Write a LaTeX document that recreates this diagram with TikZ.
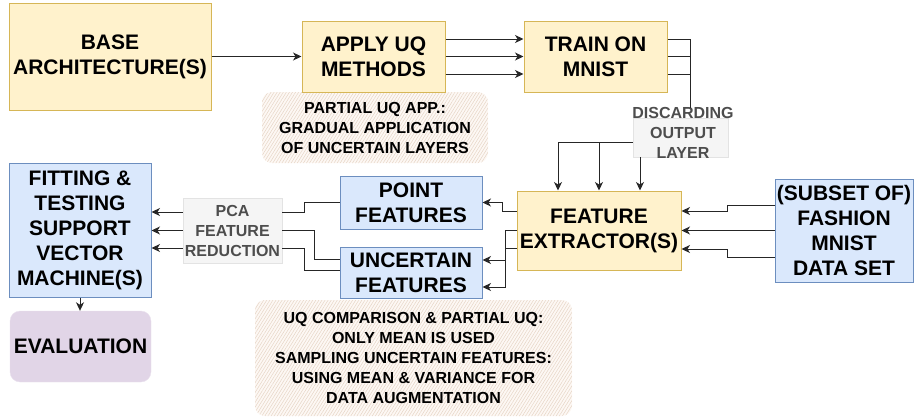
\documentclass[tikz,border=0pt]{standalone}
\usepackage{fontspec}
\setmainfont{Liberation Sans}
\usetikzlibrary{arrows.meta,patterns.meta}
\definecolor{yfill}{HTML}{FFF2CC}
\definecolor{ydraw}{HTML}{D6B656}
\definecolor{bfill}{HTML}{DAE8FC}
\definecolor{bdraw}{HTML}{6C8EBF}
\definecolor{pfill}{HTML}{E1D5E7}
\definecolor{gfill}{HTML}{F5F5F5}
\definecolor{gdraw}{HTML}{E3E3E3}
\definecolor{gtext}{HTML}{4D4D4D}
\definecolor{hatch}{HTML}{E6D5C6}
\definecolor{hfill}{HTML}{FDF8F4}
\definecolor{wire}{HTML}{262626}
\tikzset{
  big/.style={font=\fontsize{21}{25}\selectfont\bfseries, align=center, inner sep=0pt},
  small/.style={font=\fontsize{16}{20}\selectfont\bfseries, align=center, inner sep=0pt},
  ybox/.style={big, draw=ydraw, fill=yfill, line width=1pt},
  bbox/.style={big, draw=bdraw, fill=bfill, line width=1pt},
  evalbox/.style={big, fill=pfill, draw=pfill!70!white, rounded corners=10pt},
  glabel/.style={small, text=gtext},
  gbox/.style={draw=gdraw, fill=gfill, line width=0.8pt, inner sep=0pt},
  note/.style={small, rounded corners=10pt, preaction={fill=hfill},
    pattern={Lines[angle=58,distance=2.6pt,line width=0.5pt]}, pattern color=hatch},
  wireline/.style={draw=wire, line width=1pt},
  arr/.style={wireline, -{Stealth[length=8.5pt,width=8pt,inset=2.5pt]}},
}
\begin{document}
\begin{tikzpicture}[x=1pt,y=-1pt]
\useasboundingbox (0,0) rectangle (914,418);
% notes
\node[note, minimum width=226pt, minimum height=71pt] (note1) at (375,127.5)
  {PARTIAL UQ APP.:\\GRADUAL APPLICATION\\OF UNCERTAIN LAYERS};
\node[note, minimum width=317pt, minimum height=116pt] (note2) at (413.5,358)
  {UQ COMPARISON \& PARTIAL UQ:\\ONLY MEAN IS USED\\SAMPLING UNCERTAIN FEATURES:\\USING MEAN \& VARIANCE FOR\\DATA AUGMENTATION};
% main boxes
\node[ybox, minimum width=202pt, minimum height=107pt] (base) at (110,56.5) {BASE\\ARCHITECTURE(S)};
\node[ybox, minimum width=143pt, minimum height=71pt] (apply) at (373.5,56.5) {APPLY UQ\\METHODS};
\node[ybox, minimum width=143pt, minimum height=71pt] (train) at (595.5,56.5) {TRAIN ON\\MNIST};
\node[ybox, minimum width=164pt, minimum height=79pt] (fe) at (599,230.5) {FEATURE\\EXTRACTOR(S)};
\node[bbox, minimum width=138pt, minimum height=103pt] (data) at (844,230.5) {(SUBSET OF)\\FASHION\\MNIST\\DATA SET};
\node[bbox, minimum width=142pt, minimum height=53pt] (point) at (411,202.5) {POINT\\FEATURES};
\node[bbox, minimum width=142pt, minimum height=51pt] (unc) at (411,272.5) {UNCERTAIN\\FEATURES};
\node[bbox, minimum width=142pt, minimum height=134pt] (svm) at (80,230) {FITTING \&\\TESTING\\SUPPORT\\VECTOR\\MACHINE(S)};
\node[evalbox, minimum width=141pt, minimum height=71pt] (eval) at (80.5,346.5) {EVALUATION};
% grey labels
\node[gbox, minimum width=99pt, minimum height=65pt] (pca) at (232.5,230.5) {};
\node[glabel] (pcatext) at (232.5,230.5) {PCA\\FEATURE\\REDUCTION};
\node[gbox, minimum width=95pt, minimum height=39pt] (discbox) at (680.5,137.5) {};
\node[glabel] (disctext) at (683,133) {DISCARDING\\OUTPUT\\LAYER};
\coordinate (tj) at (690,108);
% connectors
\draw[arr] (base.east) -- (apply.west);
\draw[arr] ([yshift=17.5pt]apply.east) -- ([yshift=17.5pt]train.west);
\draw[arr] (apply.east) -- (train.west);
\draw[arr] ([yshift=-17.5pt]apply.east) -- ([yshift=-17.5pt]train.west);
\draw[wireline] ([yshift=17.5pt]train.east) -| (tj);
\draw[wireline] (train.east) -| (tj);
\draw[wireline] ([yshift=-17.5pt]train.east) -| (tj);
\draw[arr] ([yshift=-4.5pt]discbox.west) -| ([xshift=-41pt]fe.north);
\draw[arr] ([yshift=-4.5pt]discbox.west) -| (fe.north);
\draw[arr] ([xshift=-40.5pt]discbox.south) -- ([xshift=-40.5pt]discbox.south |- fe.north);
\draw[arr] ([yshift=25.5pt]data.west) -- ++(-47,0) |- ([yshift=19.5pt]fe.east);
\draw[arr] (data.west) -- (fe.east);
\draw[arr] ([yshift=-26.5pt]data.west) -- ++(-47,0) |- ([yshift=-18.5pt]fe.east);
\draw[arr] ([yshift=19.5pt]fe.west) -- ++(-14,0) |- (point.east);
\draw[arr] (fe.west) -- ++(-11,0) |- ([yshift=12.5pt]unc.east);
\draw[arr] ([yshift=-17.5pt]fe.west) -- ++(-11,0) |- ([yshift=-14.5pt]unc.east);
\draw[wireline] (point.west) -- ++(-35,0) |- ([yshift=18.5pt]pca.east);
\draw[wireline] ([yshift=13.5pt]unc.west) -- ++(-25,0) |- (pca.east);
\draw[wireline] ([yshift=2.5pt]unc.west) -- ++(-35,0) |- ([yshift=-17.5pt]pca.east);
\draw[arr] ([yshift=18.5pt]pca.west) -- ([yshift=18.5pt]pca.west -| svm.east);
\draw[arr] (pca.west) -- (pca.west -| svm.east);
\draw[arr] ([yshift=-17.5pt]pca.west) -- ([yshift=-17.5pt]pca.west -| svm.east);
\draw[arr] (svm.south) -- (svm.south |- eval.north);
\end{tikzpicture}
\end{document}
